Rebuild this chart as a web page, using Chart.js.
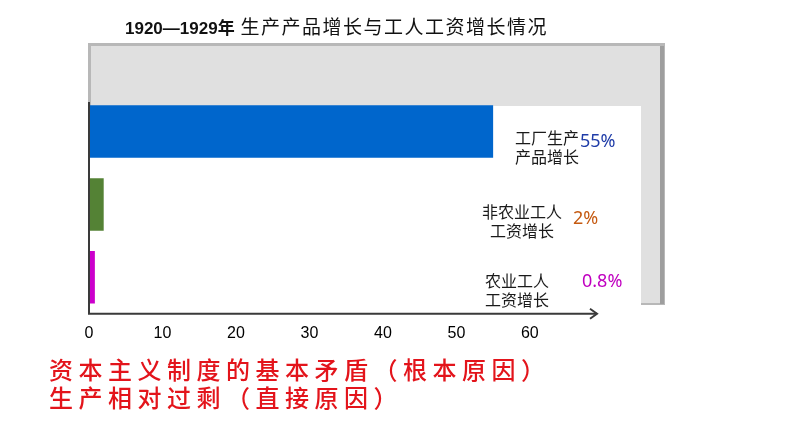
<!DOCTYPE html>
<html>
<head>
<meta charset="utf-8">
<script src="https://cdn.jsdelivr.net/npm/chart.js@4/dist/chart.umd.min.js"></script>
<style>
  html, body { margin: 0; padding: 0; background: #fff; }
  #wrap { position: relative; width: 794px; height: 447px; overflow: hidden; }
  #chart { position: absolute; left: 0; top: 0; }
  #title {
    position: absolute; left: 125px; top: 13px;
    font-family: "Noto Sans CJK SC", sans-serif; font-size: 19px; line-height: 26px;
    letter-spacing: 1.5px; color: #111; white-space: nowrap;
  }
  #title b { font-family: "Liberation Sans", "Noto Sans CJK SC", sans-serif; font-weight: bold; font-size: 17px; letter-spacing: 0; }
  #note {
    position: absolute; left: 49px; top: 355px;
    font-family: "Noto Sans CJK SC", sans-serif; font-size: 24px; font-weight: 500; line-height: 28px;
    letter-spacing: 5.5px; color: #e3141b; white-space: nowrap;
  }
</style>
</head>
<body>
<div id="wrap">
  <canvas id="chart" width="794" height="447"></canvas>
  <div id="title"><b>1920—1929年</b> 生产产品增长与工人工资增长情况</div>
  <div id="note">资本主义制度的基本矛盾（根本原因）<br>生产相对过剩（直接原因）</div>
</div>
<script>
const categories = ["工厂生产产品增长", "非农业工人工资增长", "农业工人工资增长"];
const categoryLines = [["工厂生产", "产品增长"], ["非农业工人", "工资增长"], ["农业工人", "工资增长"]];
const growth = [55, 2, 0.8];
const growthLabels = ["55%", "2%", "0.8%"];
const xTicks = [0, 10, 20, 30, 40, 50, 60];

const barColors = ["#0066cc", "#548235", "#cc00cc"];
const valueColors = ["#1f3ca8", "#c55a11", "#c000c0"];

// grey framed panel behind the plot
const panelPlugin = {
  id: "panel",
  beforeDraw(chart) {
    const ctx = chart.ctx;
    ctx.save();
    ctx.fillStyle = "#b8b8b8";
    ctx.fillRect(88, 43, 577, 262);
    ctx.fillStyle = "#9e9e9e";
    ctx.fillRect(660, 46, 4, 258);
    ctx.fillStyle = "#e0e0e0";
    ctx.fillRect(91, 46, 569, 257);
    ctx.fillStyle = "#ffffff";
    ctx.fillRect(89, 106, 552, 199);
    ctx.restore();
  }
};

// axis lines with arrow, category names and percentages
const annotPlugin = {
  id: "annot",
  afterDatasetsDraw(chart) {
    const ctx = chart.ctx;
    const area = chart.chartArea;
    const y = chart.scales.y;
    ctx.save();
    ctx.strokeStyle = "#3a3a3a";
    ctx.lineWidth = 2;
    ctx.beginPath();
    ctx.moveTo(area.left, area.top + 7);
    ctx.lineTo(area.left, area.bottom);
    ctx.lineTo(area.right + 1, area.bottom);
    ctx.stroke();
    ctx.beginPath();
    ctx.moveTo(area.right - 6, area.bottom - 5);
    ctx.lineTo(area.right + 1, area.bottom);
    ctx.lineTo(area.right - 6, area.bottom + 5);
    ctx.stroke();

    const labelX = [547, 522, 517];
    const labelDy = [6, 8, 4];
    const valueX = [580, 573, 582];
    const valueDy = [10, 14, 5];
    ctx.textBaseline = "middle";
    categoryLines.forEach((lines, i) => {
      const cy = y.getPixelForValue(i);
      ctx.font = '16px "Noto Sans CJK SC"';
      ctx.fillStyle = "#1a1a1a";
      ctx.textAlign = "center";
      lines.forEach((t, k) => ctx.fillText(t, labelX[i], cy + labelDy[i] + k * 19));
      ctx.font = '18px "Noto Sans", "Open Sans", sans-serif';
      ctx.fillStyle = valueColors[i];
      ctx.textAlign = "left";
      ctx.fillText(growthLabels[i], valueX[i], cy + valueDy[i]);
    });
    ctx.restore();
  }
};

new Chart(document.getElementById("chart").getContext("2d"), {
  type: "bar",
  data: {
    labels: categories,
    datasets: [{
      data: growth,
      backgroundColor: barColors,
      borderWidth: 0,
      categoryPercentage: 0.72,
      barPercentage: 1
    }]
  },
  options: {
    indexAxis: "y",
    responsive: false,
    animation: false,
    layout: { padding: { left: 89, top: 95, right: 198, bottom: 94 } },
    plugins: { legend: { display: false }, tooltip: { enabled: false } },
    scales: {
      x: {
        min: 0,
        max: 69,
        afterBuildTicks: (scale) => { scale.ticks = xTicks.map(v => ({ value: v })); },
        grid: { display: false, drawTicks: false },
        border: { display: false },
        ticks: {
          padding: 10,
          color: "#000",
          font: { family: "Liberation Sans", size: 16 }
        }
      },
      y: { display: false }
    }
  },
  plugins: [panelPlugin, annotPlugin]
});
</script>
</body>
</html>
